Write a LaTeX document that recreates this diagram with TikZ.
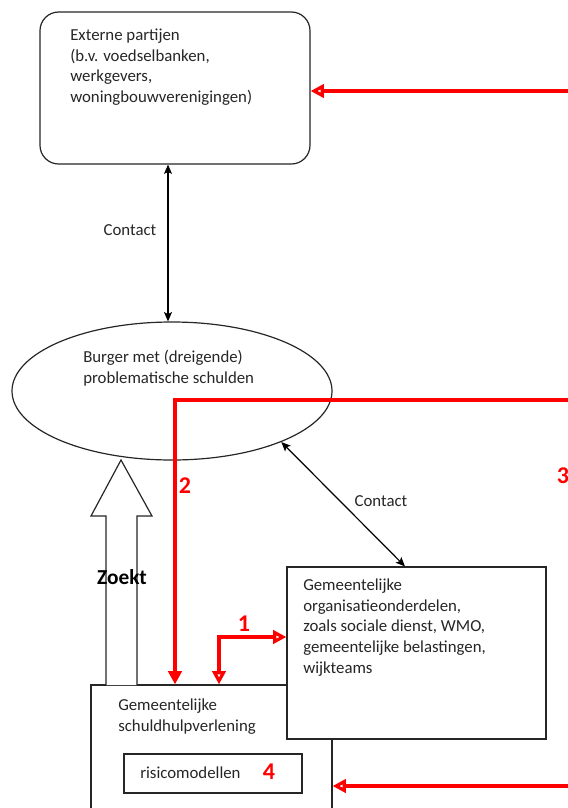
\documentclass[tikz,border=0pt]{standalone}
\usepackage{fontspec}
\setmainfont{Carlito}
\usetikzlibrary{arrows.meta,shapes.geometric}
\definecolor{redline}{RGB}{255,0,0}
\tikzset{
  boxline/.style={draw=black!85, line width=0.9pt},
  rbox/.style={boxline, rectangle, fill=white, inner sep=0pt},
  txt/.style={anchor=base west, inner sep=0pt, align=left, font=\fontsize{12.6}{15.4}\selectfont, text=black!85},
  lbl/.style={inner sep=0pt, font=\fontsize{12.6}{15.4}\selectfont, text=black!85},
  num/.style={inner sep=0pt, font=\fontsize{18}{20}\selectfont\bfseries, text=redline},
  blackarrow/.style={draw=black, line width=0.9pt, {Stealth[length=7pt,width=6pt,inset=1.5pt]}-{Stealth[length=7pt,width=6pt,inset=1.5pt]}},
  redopen/.style={draw=redline, line width=3pt},
  otip/.tip={Triangle[length=10pt,width=10pt,fill=white,line width=2.4pt]},
  ftip/.tip={Triangle[length=10pt,width=10pt]},
}
\begin{document}
\begin{tikzpicture}[x=0.75pt,y=-0.75pt]
\useasboundingbox (0,0) rectangle (568,808);
\clip (0,0) rectangle (568,808);
% boxes
\node[rbox, rounded corners=14pt, minimum width=202.5pt, minimum height=114pt] (ext) at (175,88) {};
\node[txt] (exttxt) at (70,102.5) {Externe partijen\\(b.v. voedselbanken,\\werkgevers,\\woningbouwverenigingen)};
\node[boxline, ellipse, inner sep=0pt, minimum width=240pt, minimum height=103.5pt] (burger) at (172,391) {};
\node[txt] (burgertxt) at (83,383) {Burger met (dreigende)\\problematische schulden};
\node[rbox, minimum width=180.75pt, minimum height=108.75pt] (sch) at (211.5,757.5) {};
\node[txt] (schtxt) at (118,731) {Gemeentelijke\\schuldhulpverlening};
\node[rbox, minimum width=133.5pt, minimum height=29.25pt] (risk) at (213,773.5) {};
\node[txt] (risktxt) at (140,778) {risicomodellen};
\node[num] (n4) at (269,772) {4};
\node[rbox, minimum width=194.25pt, minimum height=129pt] (org) at (416.5,653) {};
\node[txt] (orgtxt) at (303,673) {Gemeentelijke\\organisatieonderdelen,\\zoals sociale dienst, WMO,\\gemeentelijke belastingen,\\wijkteams};
% Zoekt block arrow
\draw[boxline, fill=white] (106,685) -- (106,516) -- (91,516) -- (121,460) -- (152,516) -- (137,516) -- (137,685);
\node[inner sep=0pt, font=\fontsize{16}{18}\selectfont\bfseries] (zoekt) at (122,577) {Zoekt};
% contact arrows
\draw[blackarrow] (ext.south -| 168,0) -- (burger.north -| 168,0);
\node[lbl] (c1) at (130,230) {Contact};
\draw[blackarrow] (burger.-25) -- (org.north -| 405,0);
\node[lbl] (c2) at (381,501) {Contact};
% red arrows
\coordinate (r1) at (575,91);
\coordinate (r2) at (575,400);
\coordinate (r4) at (575,786);
\draw[redopen, -otip] (r1) -- (ext.east |- r1);
\draw[redopen, -ftip] (r2) -- (175,400) -- (sch.north -| 175,0);
\draw[redopen, otip-otip] (sch.north -| 219,0) -- (219,637) -- (org.west |- 0,637);
\draw[redopen, -otip] (r4) -- (sch.east |- r4);
\node[num] (n1) at (244,624) {1};
\node[num] (n2) at (185,486) {2};
\node[num] (n3) at (563,476) {3};
\end{tikzpicture}
\end{document}
